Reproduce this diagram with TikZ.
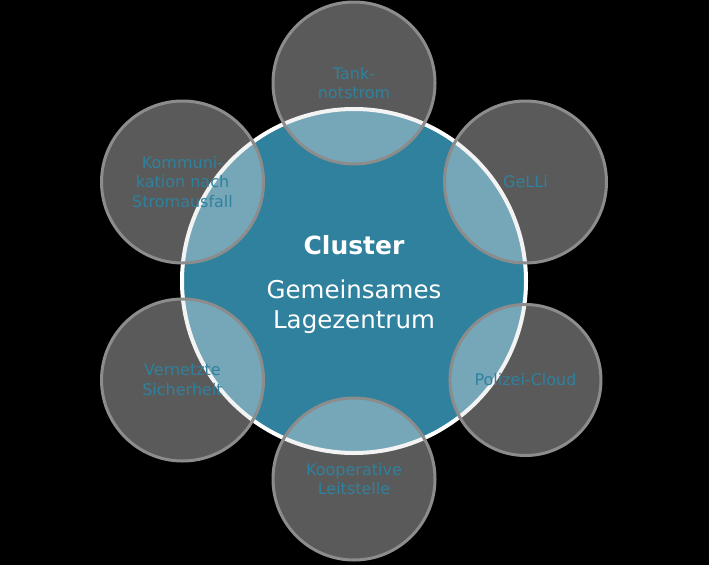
\documentclass[tikz,border=0pt]{standalone}
\usepackage{fontspec}
\setmainfont{DejaVu Sans}
\usetikzlibrary{calc}
\definecolor{clusterblue}{RGB}{47,129,157}
\definecolor{ringgray}{RGB}{140,140,140}
\definecolor{veilgray}{RGB}{225,225,225}

\begin{document}
\begin{tikzpicture}[x=1pt, y=-1pt,
		hub/.style={circle, draw=white, line width=4pt, fill=clusterblue,
			inner sep=0pt, minimum size=344pt},
		title/.style={text=white, align=center, inner sep=0pt,
			font=\fontsize{24.5}{30}\selectfont},
		topic/.style={circle, draw=ringgray, line width=3pt, fill=veilgray,
			fill opacity=0.4, draw opacity=1, text opacity=1, text=clusterblue,
			inner sep=0pt, align=center, font=\fontsize{16}{19.5}\selectfont}]
	\fill[black] (0,0) rectangle (709,565);
	\node[hub] (cluster) at (354,281) {};
	\node[title] (name) at (354,285)
		{{\fontsize{25}{30}\selectfont\bfseries Cluster}\\[14pt]Gemeinsames\\Lagezentrum};
	\foreach \ang/\size/\id/\txt in {90/162/tank/{Tank-\\notstrom},
			30/162/gelli/GeLLi,
			-30/151/cloud/Polizei-Cloud,
			-90/162/leit/{Kooperative\\Leitstelle},
			210/162/vernetzt/{Vernetzte\\Sicherheit},
			150/162/komm/{Kommuni-\\kation nach\\Stromausfall}}
		\node[topic, minimum size=\size pt] (\id) at ($(cluster)+(\ang:198pt)$) {\txt};
\end{tikzpicture}
\end{document}
